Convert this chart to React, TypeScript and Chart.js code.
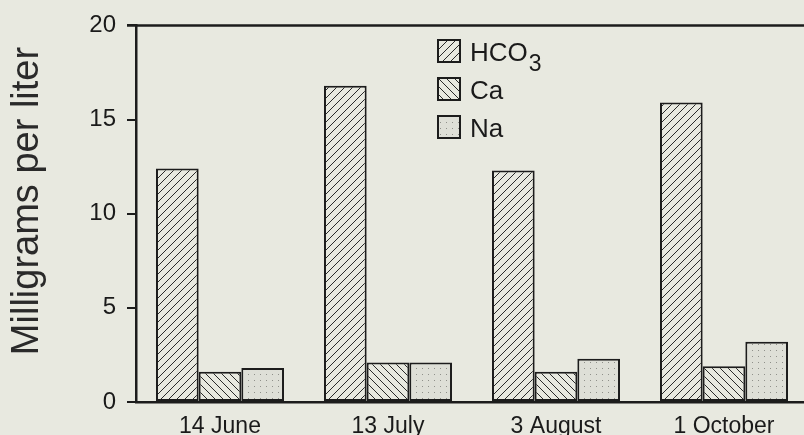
import React, { useEffect, useRef } from "react";
import { Chart, registerables } from "chart.js";
Chart.register(...registerables);

const categories = ["14 June", "13 July", "3 August", "1 October"];
const hco3Values = [12.4, 16.8, 12.3, 15.9];
const caValues = [1.6, 2.1, 1.6, 1.9];
const naValues = [1.8, 2.1, 2.3, 3.2];
const seriesNames = ["HCO3", "Ca", "Na"];
const yMin = 0;
const yMax = 20;
const yStep = 5;
const yTitle = "Milligrams per liter";

const BG = "#e8e9e0";
const INK = "#1c1c1c";
const FONT = "'Liberation Sans', Arial, Helvetica, sans-serif";

function makePattern(kind: string): CanvasPattern | string {
  const s = kind === "dots" ? 6 : 8;
  const c = document.createElement("canvas");
  c.width = s;
  c.height = s;
  const g = c.getContext("2d");
  if (!g) return BG;
  g.fillStyle = kind === "dots" ? "#dedfd7" : BG;
  g.fillRect(0, 0, s, s);
  g.strokeStyle = "#2a2a2a";
  g.lineWidth = 1;
  if (kind === "fwd") {
    g.beginPath();
    g.moveTo(0, s); g.lineTo(s, 0);
    g.moveTo(-1, 1); g.lineTo(1, -1);
    g.moveTo(s - 1, s + 1); g.lineTo(s + 1, s - 1);
    g.stroke();
  } else if (kind === "back") {
    g.beginPath();
    g.moveTo(0, 0); g.lineTo(s, s);
    g.moveTo(-1, s - 1); g.lineTo(1, s + 1);
    g.moveTo(s - 1, -1); g.lineTo(s + 1, 1);
    g.stroke();
  } else {
    g.fillStyle = "#8f908a";
    g.fillRect(2, 2, 1, 1);
  }
  const p = g.createPattern(c, "repeat");
  return p || BG;
}

export default function App() {
  const ref = useRef<HTMLCanvasElement | null>(null);

  useEffect(() => {
    const canvas = ref.current;
    if (!canvas) return;
    const fills = [makePattern("fwd"), makePattern("back"), makePattern("dots")];

    const overlay = {
      id: "overlay",
      afterDraw(chart: any) {
        const ctx = chart.ctx;
        const area = chart.chartArea;
        ctx.save();
        // top frame line
        ctx.strokeStyle = INK;
        ctx.lineWidth = 2.5;
        ctx.beginPath();
        ctx.moveTo(area.left - 9, area.top);
        ctx.lineTo(chart.width, area.top);
        ctx.stroke();

        // y-axis title
        ctx.fillStyle = "#2a2a2a";
        ctx.font = `38px ${FONT}`;
        ctx.textAlign = "center";
        ctx.textBaseline = "alphabetic";
        ctx.translate(38, 201);
        ctx.rotate(-Math.PI / 2);
        ctx.fillText(yTitle, 0, 0);
        ctx.restore();

        // legend
        ctx.save();
        const bx = 437;
        const rows = [39, 77, 115];
        chart.data.datasets.forEach((ds: any, i: number) => {
          const y = rows[i];
          ctx.fillStyle = ds.backgroundColor;
          ctx.fillRect(bx, y, 24, 24);
          ctx.strokeStyle = INK;
          ctx.lineWidth = 2;
          ctx.strokeRect(bx + 1, y + 1, 22, 22);
          ctx.fillStyle = "#1a1a1a";
          ctx.font = `26px ${FONT}`;
          ctx.textAlign = "left";
          ctx.textBaseline = "alphabetic";
          const label: string = ds.label;
          const m = label.match(/^(.*?)(\d+)$/);
          if (m) {
            ctx.fillText(m[1], 470, y + 22);
            const w = ctx.measureText(m[1]).width;
            ctx.font = `23px ${FONT}`;
            ctx.fillText(m[2], 470 + w + 1, y + 32);
          } else {
            ctx.fillText(label, 470, y + 22);
          }
        });
        ctx.restore();
      },
    };

    const chart = new Chart(canvas, {
      type: "bar",
      data: {
        labels: categories,
        datasets: [
          { label: seriesNames[0], data: hco3Values, backgroundColor: fills[0] as any },
          { label: seriesNames[1], data: caValues, backgroundColor: fills[1] as any },
          { label: seriesNames[2], data: naValues, backgroundColor: fills[2] as any },
        ].map((d) => ({
          ...d,
          borderColor: INK,
          borderWidth: 2,
          borderSkipped: false,
          barPercentage: 1,
          categoryPercentage: 0.762,
        })),
      },
      options: {
        responsive: false,
        animation: false,
        layout: { padding: { top: 21, right: 4, left: 0, bottom: 0 } },
        plugins: {
          legend: { display: false },
          tooltip: { enabled: false },
        },
        scales: {
          x: {
            grid: { display: false, drawTicks: false },
            border: { display: true, color: INK, width: 2.5 },
            ticks: {
              color: "#1a1a1a",
              padding: 11,
              font: { family: FONT, size: 23 },
              maxRotation: 0,
            },
            afterFit(scale: any) {
              scale.height = 33;
            },
          },
          y: {
            min: yMin,
            max: yMax,
            grid: {
              drawOnChartArea: false,
              drawTicks: true,
              tickLength: 9,
              color: INK,
              lineWidth: 2,
            },
            border: { display: true, color: INK, width: 2.5 },
            ticks: {
              stepSize: yStep,
              color: "#1a1a1a",
              padding: 11,
              font: { family: FONT, size: 24 },
            },
            afterFit(scale: any) {
              scale.width = 136;
            },
          },
        },
      },
      plugins: [overlay],
    });

    return () => chart.destroy();
  }, []);

  return (
    <div
      style={{
        position: "absolute",
        left: 0,
        top: 0,
        width: 804,
        height: 435,
        overflow: "hidden",
        background: BG,
      }}
    >
      <canvas ref={ref} width={812} height={435} style={{ display: "block" }} />
    </div>
  );
}
